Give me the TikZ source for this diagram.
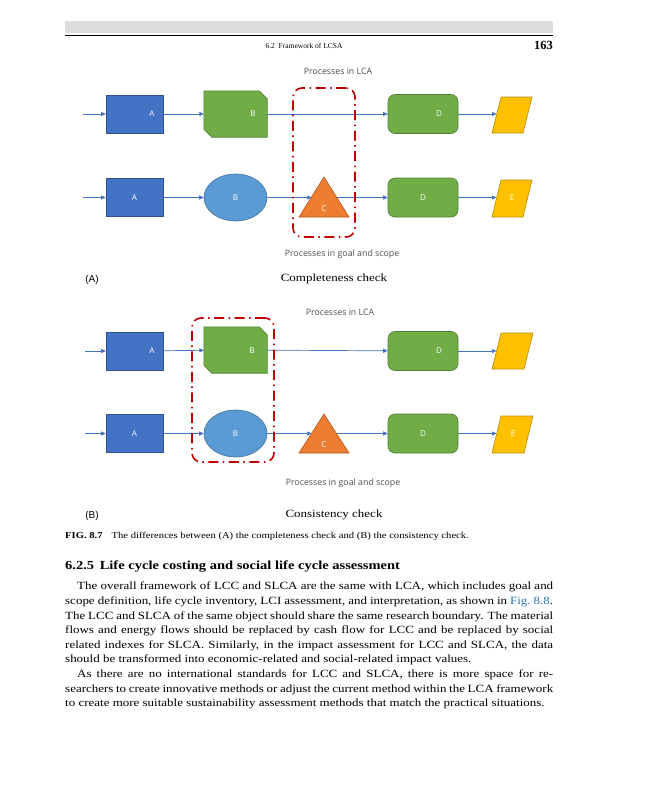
\documentclass[tikz,border=0pt]{standalone}
\usepackage{fontspec}
\setmainfont{Liberation Serif}
\newfontfamily\bodyfont[FakeStretch=1.18]{Liberation Serif}
\newfontfamily\figfont{Open Sans}
\newfontfamily\arialfont{Liberation Sans}
\usetikzlibrary{arrows.meta,shapes.geometric}
\definecolor{arrowblue}{HTML}{4472C4}
\definecolor{blueA}{HTML}{4472C4}
\definecolor{blueAd}{HTML}{2F528F}
\definecolor{greenB}{HTML}{70AD47}
\definecolor{greenBd}{HTML}{507E32}
\definecolor{ellB}{HTML}{5B9BD5}
\definecolor{ellBd}{HTML}{41719C}
\definecolor{orangeC}{HTML}{ED7D31}
\definecolor{orangeCd}{HTML}{AE5A21}
\definecolor{yellowE}{HTML}{FFC000}
\definecolor{yellowEd}{HTML}{BC8C00}
\definecolor{redscope}{HTML}{C00000}
\definecolor{headgray}{HTML}{DCDCDC}
\definecolor{figgray}{HTML}{505050}
\definecolor{linkblue}{HTML}{2A74B8}
\begin{document}
\begin{tikzpicture}[x=1pt,y=-1pt,
  flow/.style={draw=arrowblue, line width=0.7pt, -{Triangle[length=4.5pt,width=4pt]}},
  boxA/.style={rectangle, fill=blueA, draw=blueAd, line width=0.6pt, minimum width=57pt, minimum height=38pt, inner sep=0pt, text=white, font=\figfont\fontsize{8}{9}\selectfont},
  bbox/.style={rectangle, minimum width=63pt, minimum height=46pt, inner sep=0pt},
  snip/.style={fill=greenB, draw=greenBd, line width=0.6pt},
  boxD/.style={rectangle, rounded corners=7pt, fill=greenB, draw=greenBd, line width=0.6pt, minimum width=70pt, minimum height=39pt, inner sep=0pt, text=white, font=\figfont\fontsize{8}{9}\selectfont},
  ell/.style={ellipse, fill=ellB, draw=ellBd, line width=0.6pt, minimum width=63pt, minimum height=47pt, inner sep=0pt, text=white, font=\figfont\fontsize{8}{9}\selectfont},
  tri/.style={fill=orangeC, draw=orangeCd, line width=0.6pt},
  para/.style={fill=yellowE, draw=yellowEd, line width=0.6pt},
  lab/.style={inner sep=0pt, text=white, font=\figfont\fontsize{8}{9}\selectfont},
  figtext/.style={inner sep=0pt, text=figgray, font=\figfont\fontsize{8.8}{10}\selectfont},
  redbox/.style={rectangle, draw=redscope, line width=1.6pt, rounded corners=9pt, dash pattern=on 10pt off 4.5pt on 1.5pt off 4.5pt, inner sep=0pt},
  sublab/.style={inner sep=0pt, font=\arialfont\fontsize{10}{12}\selectfont},
  checklab/.style={inner sep=0pt, font=\bodyfont\fontsize{11}{13}\selectfont}
]
\useasboundingbox[fill=white] (0,0) rectangle (648,800);

% ---------- page header ----------
\fill[headgray] (65,21) rectangle (553,33);
\draw[line width=0.8pt] (65,35) -- (553,35);
\node[inner sep=0pt] (hdr) at (304,46) {\fontsize{7.5}{9}\selectfont 6.2\ \ Framework of LCSA};
\node[inner sep=0pt, anchor=east] (pgno) at (553,45.5) {\bfseries\fontsize{12.5}{14}\selectfont 163};

% ================= (A) =================
\node[figtext] (lcaA) at (338,71) {Processes in LCA};
% row 1
\coordinate (inA1) at (83,114);
\node[boxA] (A1) at (134.5,114) {};
\node[lab] (A1t) at (152,114) {A};
\node[bbox] (B1) at (235.5,114) {};
\path[snip] (B1.north west) -- ([xshift=-8pt]B1.north east) -- ([yshift=-8pt]B1.north east) -- (B1.south east) -- ([xshift=8pt]B1.south west) -- ([yshift=8pt]B1.south west) -- cycle;
\node[lab] (B1t) at (253,114) {B};
\node[boxD] (D1) at (423,114) {};
\node[lab] (D1t) at (439,114) {D};
\path[para] (492,133) -- (501,97) -- (532,97) -- (523,133) -- cycle;
\coordinate (P1in) at (496.5,114);
\draw[flow] (inA1) -- (A1);
\draw[flow] (A1) -- (B1);
\draw[flow] (B1) -- (D1);
\draw[flow] (D1) -- (P1in);
% row 2
\coordinate (inA2) at (83,197.5);
\node[boxA] (A2) at (134.5,197.5) {A};
\node[ell] (B2) at (235.5,197.5) {B};
\path[tri] (324,177) -- (349,217) -- (299,217) -- cycle;
\coordinate (C2in) at (311.5,197.5);
\coordinate (C2out) at (336.5,197.5);
\node[lab] (C2) at (324,209) {C};
\node[boxD] (D2) at (423,197.5) {D};
\path[para] (492,217) -- (501,180) -- (532,180) -- (523,217) -- cycle;
\coordinate (E2in) at (496.5,197.5);
\node[lab] (E2) at (512,198) {E};
\draw[flow] (inA2) -- (A2);
\draw[flow] (A2) -- (B2);
\draw[flow] (B2) -- (C2in);
\draw[flow] (C2out) -- (D2);
\draw[flow] (D2) -- (E2in);
% scope box
\node[redbox, minimum width=62pt, minimum height=149pt] (scopeA) at (324,162.5) {};
\node[figtext] (gsA) at (342,254) {Processes in goal and scope};
\node[sublab] (labA) at (92,279.5) {(A)};
\node[checklab] (ccA) at (334,279) {Completeness check};

% ================= (B) =================
\node[figtext] (lcaB) at (340,312) {Processes in LCA};
% row 1
\coordinate (inB1) at (85,351);
\node[boxA] (A3) at (134.5,351) {};
\node[lab] (A3t) at (152,351) {A};
\node[bbox] (B3) at (235.5,350) {};
\path[snip] (B3.north west) -- ([xshift=-8pt]B3.north east) -- ([yshift=-8pt]B3.north east) -- (B3.south east) -- ([xshift=8pt]B3.south west) -- ([yshift=8pt]B3.south west) -- cycle;
\node[lab] (B3t) at (252,351) {B};
\node[boxD] (D3) at (423,351) {};
\node[lab] (D3t) at (439,351) {D};
\path[para] (492,369) -- (501,333) -- (533,333) -- (524,369) -- cycle;
\coordinate (P3in) at (496.5,351);
\draw[flow] (inB1) -- (A3);
\draw[flow] (A3) -- (B3);
\draw[flow] (B3) -- (D3);
\draw[flow] (D3) -- (P3in);
% row 2
\coordinate (inB2) at (85,433.5);
\node[boxA] (A4) at (134.5,433.5) {A};
\node[ell] (B4) at (235.5,433.5) {B};
\path[tri] (324,414) -- (349,453) -- (299,453) -- cycle;
\coordinate (C4in) at (311.5,433.5);
\coordinate (C4out) at (336.5,433.5);
\node[lab] (C4) at (324,445) {C};
\node[boxD] (D4) at (423,433.5) {D};
\path[para] (492,453) -- (501,416) -- (533,416) -- (524,453) -- cycle;
\coordinate (E4in) at (496.5,433.5);
\node[lab] (E4) at (513,434) {E};
\draw[flow] (inB2) -- (A4);
\draw[flow] (A4) -- (B4);
\draw[flow] (B4) -- (C4in);
\draw[flow] (C4out) -- (D4);
\draw[flow] (D4) -- (E4in);
% scope box
\node[redbox, minimum width=82pt, minimum height=144pt] (scopeB) at (233,390) {};
\node[figtext] (gsB) at (343,483) {Processes in goal and scope};
\node[sublab] (labB) at (92,515.5) {(B)};
\node[checklab] (ccB) at (334,515) {Consistency check};

% ---------- caption, heading, body ----------
\node[anchor=base west, inner sep=0pt] (cap) at (65,538) {\bodyfont\fontsize{9}{10}\selectfont\textbf{FIG. 8.7}\hspace{1em}The differences between (A) the completeness check and (B) the consistency check.};
\node[anchor=base west, inner sep=0pt] (head) at (65,569.5) {\bodyfont\bfseries\fontsize{12.3}{15}\selectfont 6.2.5\hspace{0.45em}Life cycle costing and social life cycle assessment};
\node[anchor=north west, inner sep=0pt, text width=488pt, align=justify] (body) at (65,582) {\bodyfont\fontsize{11}{14.6}\selectfont
\hspace*{12pt}The overall framework of LCC and SLCA are the same with LCA, which includes goal and\linebreak
scope definition, life cycle inventory, LCI assessment, and interpretation, as shown in \textcolor{linkblue}{Fig.~8.8}.\linebreak
The LCC and SLCA of the same object should share the same research boundary. The material\linebreak
flows and energy flows should be replaced by cash flow for LCC and be replaced by social\linebreak
related indexes for SLCA. Similarly, in the impact assessment for LCC and SLCA, the data\linebreak
should be transformed into economic-related and social-related impact values.\par
\hspace*{12pt}As there are no international standards for LCC and SLCA, there is more space for re-\linebreak
searchers to create innovative methods or adjust the current method within the LCA framework\linebreak
to create more suitable sustainability assessment methods that match the practical situations.\par};
\end{tikzpicture}
\end{document}
